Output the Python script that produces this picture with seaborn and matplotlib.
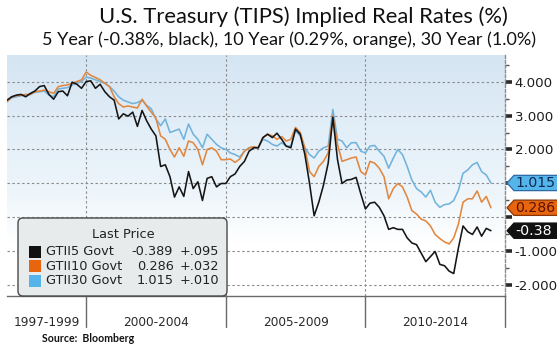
import numpy as np
import pandas as pd
import matplotlib
matplotlib.use("Agg")
import matplotlib.pyplot as plt
import matplotlib.dates as mdates
import matplotlib.transforms as mtransforms
from matplotlib.patches import Polygon, FancyBboxPatch, Rectangle
from matplotlib.colors import LinearSegmentedColormap
import seaborn as sns

# ---------------------------------------------------------------- data
dates = pd.date_range("1997-03-01", "2014-07-01", freq="2MS")

tips5 = [
    3.45, 3.55, 3.60, 3.62, 3.55,
    3.65, 3.72, 3.85, 3.88, 3.62, 3.48,
    3.70, 3.72, 3.58, 3.98, 3.92, 3.80,
    4.00, 4.02, 3.80, 3.92, 3.70, 3.55,
    3.45, 2.90, 3.05, 2.98, 3.10, 2.68,
    3.15, 2.85, 2.60, 2.40, 1.50, 1.55,
    1.20, 0.60, 0.90, 0.62, 1.35, 0.85,
    1.05, 0.50, 1.15, 1.20, 0.90, 1.00,
    1.00, 1.20, 1.28, 1.50, 1.65, 1.95,
    2.05, 2.05, 2.35, 2.45, 2.35, 2.48,
    2.30, 2.10, 2.05, 2.60, 2.45, 1.85,
    1.00, 0.05, 0.45, 0.95, 1.60, 2.95,
    1.70, 1.00, 1.10, 1.12, 1.18, 0.70,
    0.25, 0.42, 0.45, 0.30, 0.05, -0.35,
    -0.30, -0.35, -0.35, -0.60, -0.75, -0.80,
    -1.05, -1.30, -1.15, -1.00, -1.38, -1.42,
    -1.58, -1.65, -0.90, -0.25, -0.42, -0.50,
    -0.28, -0.55, -0.32, -0.389,
]
tips10 = [
    3.40, 3.55, 3.58, 3.60, 3.62,
    3.62, 3.70, 3.72, 3.75, 3.70, 3.65,
    3.85, 3.88, 3.90, 3.95, 4.00, 4.05,
    4.28, 4.18, 4.12, 4.05, 3.95, 3.85,
    3.55, 3.35, 3.25, 3.28, 3.25, 3.22,
    3.48, 3.28, 3.10, 2.92, 2.40, 2.30,
    2.00, 1.78, 2.05, 1.80, 2.25, 2.20,
    2.00, 1.55, 2.00, 2.05, 1.95, 1.70,
    1.70, 1.72, 1.62, 1.72, 1.95, 2.05,
    2.08, 2.05, 2.35, 2.45, 2.40, 2.30,
    2.38, 2.25, 2.30, 2.65, 2.50, 2.05,
    1.35, 1.20, 1.50, 1.65, 1.90, 3.00,
    2.15, 1.65, 1.70, 1.75, 1.78, 1.35,
    1.25, 1.65, 1.60, 1.45, 1.20, 0.55,
    0.85, 1.00, 0.90, 0.60, 0.20, 0.10,
    -0.05, -0.10, -0.25, -0.50, -0.62, -0.72,
    -0.78, -0.60, -0.20, 0.45, 0.55, 0.55,
    0.78, 0.45, 0.62, 0.286,
]
tips30 = [
    3.42, 3.52, 3.55, 3.58, 3.60,
    3.62, 3.68, 3.70, 3.72, 3.60, 3.55,
    3.78, 3.80, 3.82, 3.90, 3.95, 4.00,
    4.13, 4.10, 4.05, 4.00, 3.95, 3.85,
    3.72, 3.55, 3.45, 3.40, 3.35, 3.38,
    3.45, 3.30, 3.20, 2.90, 2.70, 2.90,
    2.50, 2.55, 2.60, 2.30, 2.75, 2.45,
    2.30, 2.05, 2.45, 2.30, 2.15, 2.05,
    2.00, 1.90, 1.85, 1.78, 1.95, 2.05,
    2.08, 2.05, 2.30, 2.25, 2.15, 2.10,
    2.20, 2.10, 2.10, 2.55, 2.40, 2.05,
    1.85, 1.75, 1.95, 2.05, 2.10, 3.18,
    2.30, 2.25, 2.05, 2.20, 2.20, 1.95,
    1.90, 2.10, 2.12, 1.95, 1.80, 1.45,
    1.75, 2.00, 1.85, 1.50, 1.10, 0.85,
    0.75, 0.60, 0.80, 0.45, 0.30, 0.38,
    0.40, 0.50, 0.80, 1.30, 1.40, 1.55,
    1.62, 1.35, 1.25, 1.015,
]

series_names = ["GTII5 Govt", "GTII10 Govt", "GTII30 Govt"]
line_colors = ["#151515", "#e2873f", "#72b3dc"]
swatch_colors = ["#111111", "#e8650f", "#55b4ea"]
tag_text_colors = ["#ffffff", "#5a1200", "#0d2b55"]
tag_edge_colors = ["#111111", "#8a3500", "#2a6aa5"]
net_change = ["+.095", "+.032", "+.010"]

period_labels = ["1997-1999", "2000-2004", "2005-2009", "2010-2014"]
period_bounds = ["1997-03-01", "2000-01-01", "2005-01-01", "2010-01-01", "2015-01-01"]

y_ticks = [-2, -1, 0, 1, 2, 3, 4]
y_tick_labels = ["-2.000", "-1.000", "", "", "2.000", "3.000", "4.000"]

title = "U.S. Treasury (TIPS) Implied Real Rates (%)"
subtitle = "5 Year (-0.38%, black), 10 Year (0.29%, orange), 30 Year (1.0%)"
source = "Source:  Bloomberg"

# ---------------------------------------------------------------- figure
sns.set_style("white")
plt.rcParams["font.family"] = ["DejaVu Sans"]

W, H = 557, 347
fig = plt.figure(figsize=(W / 100, H / 100), dpi=100)
fig.patch.set_facecolor("white")
ax = fig.add_axes([7 / W, 1 - 296 / H, (505 - 7) / W, (296 - 55) / H])

# soft blue-to-white backdrop
bg = LinearSegmentedColormap.from_list(
    "bg", [(0.0, "#ffffff"), (0.22, "#ffffff"), (0.42, "#eef6fb"),
           (0.7, "#e2eef8"), (1.0, "#d5e5f2")])
grad = np.linspace(1, 0, 256).reshape(-1, 1)
ax.imshow(grad, extent=[0, 1, 0, 1], transform=ax.transAxes, aspect="auto",
          cmap=bg, vmin=0, vmax=1, zorder=0, interpolation="bicubic")

df = pd.DataFrame({
    "date": np.concatenate([dates, dates, dates]),
    "rate": tips5 + tips10 + tips30,
    "series": np.repeat(series_names, len(dates)),
})
sns.lineplot(data=df, x="date", y="rate", hue="series",
             hue_order=series_names[::-1],
             palette=dict(zip(series_names, line_colors)),
             linewidth=1.15, legend=False, ax=ax, zorder=3)

x0, x1 = pd.Timestamp(period_bounds[0]), pd.Timestamp(period_bounds[-1])
ax.set_xlim(x0, x1)
ax.set_ylim(-2.31, 4.78)
ax.set_xlabel("")
ax.set_ylabel("")

# grid
grid_kw = dict(color="#8c8c8c", lw=0.8, ls=(0, (2.2, 2.2)), zorder=1)
for v in y_ticks:
    ax.axhline(v, **grid_kw)
for b in period_bounds[1:-1]:
    ax.axvline(pd.Timestamp(b), **grid_kw)

# spines
for s in ["left", "top"]:
    ax.spines[s].set_visible(False)
ax.spines["bottom"].set_color("#6a6a6a")
ax.spines["bottom"].set_linewidth(1.0)
ax.spines["right"].set_color("#8c8c8c")
ax.spines["right"].set_linewidth(1.0)
ax.spines["right"].set_linestyle((0, (2, 1.5)))

# right-hand value axis
ax.yaxis.tick_right()
ax.set_yticks(y_ticks)
ax.set_yticklabels(y_tick_labels)
ax.set_yticks(np.arange(-1.5, 4.6, 1.0), minor=True)
ax.tick_params(axis="y", which="major", length=5, width=2.6, color="#2a2a2a",
               pad=2, labelsize=9.6, labelcolor="#1e1e1e")
ax.tick_params(axis="y", which="minor", length=3, width=1, color="#555555")

# yearly ticks below the time axis
ax.xaxis.set_major_locator(mdates.YearLocator())
ax.tick_params(axis="x", which="major", length=4, width=1, color="#6a6a6a",
               labelbottom=False)

# period separators and labels
sep_tf = mtransforms.blended_transform_factory(ax.transData, ax.transAxes)
for b in period_bounds[1:]:
    t = mdates.date2num(pd.Timestamp(b))
    ax.plot([t, t], [0, -0.13], color="#6a6a6a", lw=1.0, transform=sep_tf,
            clip_on=False, zorder=4)
for lab, a, b in zip(period_labels, period_bounds[:-1], period_bounds[1:]):
    mid = mdates.date2num(pd.Timestamp(a)) / 2 + mdates.date2num(pd.Timestamp(b)) / 2
    ax.text(mid, -0.108, lab, transform=sep_tf, ha="center", va="center",
            fontsize=8.7, color="#2a2a2a")

# last-value tags on the right edge (five characters fit in a tag)
last_vals = [tips5[-1], tips10[-1], tips30[-1]]
tag_tf = mtransforms.blended_transform_factory(fig.transFigure, ax.transData)
hh = 0.225
for v, fc, ec, tc in zip(last_vals, swatch_colors, tag_edge_colors, tag_text_colors):
    pts = [(507 / W, v), (514 / W, v + hh), (1.02, v + hh),
           (1.02, v - hh), (514 / W, v - hh)]
    fig.add_artist(Polygon(pts, closed=True, transform=tag_tf, fc=fc, ec=ec,
                           lw=0.9, zorder=6, clip_on=False))
    fig.text(515 / W, v, f"{v:.3f}"[:5], transform=tag_tf, ha="left",
             va="center", fontsize=10.2, color=tc, zorder=7)

# last-price panel
inch = fig.dpi_scale_trans
def P(x, y):
    return (x / 100, (H - y) / 100)

box = FancyBboxPatch(P(18, 296), 209 / 100, 78 / 100,
                     boxstyle="round,pad=0,rounding_size=0.05",
                     transform=inch, fc="#e7ebeb", ec="#4a4a4a", lw=1.0,
                     zorder=8)
fig.add_artist(box)
fig.text(*P(123, 235), "Last Price", transform=inch, ha="center", va="center",
         fontsize=9.3, color="#222222", zorder=9)
row_y = [251.5, 266, 281]
for name, v, chg, sc, ry in zip(series_names, last_vals, net_change,
                                swatch_colors, row_y):
    fig.add_artist(Rectangle(P(29, ry + 6), 0.12, 0.12, transform=inch,
                             fc=sc, ec="none", zorder=9))
    fig.text(*P(46, ry), name, transform=inch, ha="left", va="center",
             fontsize=9.3, color="#222222", zorder=9)
    fig.text(*P(137 if v >= 0 else 131, ry), f"{v:.3f}", transform=inch,
             ha="left", va="center", fontsize=9.3, color="#222222", zorder=9)
    fig.text(*P(219, ry), chg, transform=inch, ha="right", va="center",
             fontsize=9.3, color="#222222", zorder=9)

# headings and source line
fig.text(303 / W, 1 - 17 / H, title, ha="center", va="center",
         fontsize=15.8, family="Lato", color="#111111")
fig.text(289 / W, 1 - 40 / H, subtitle, ha="center", va="center",
         fontsize=13.0, family="Lato", color="#111111")
fig.text(42 / W, 1 - 338 / H, source, ha="left", va="center",
         fontsize=7.6, family="Lato", weight="bold", color="#111111")

fig.savefig("out.png", dpi=100)
